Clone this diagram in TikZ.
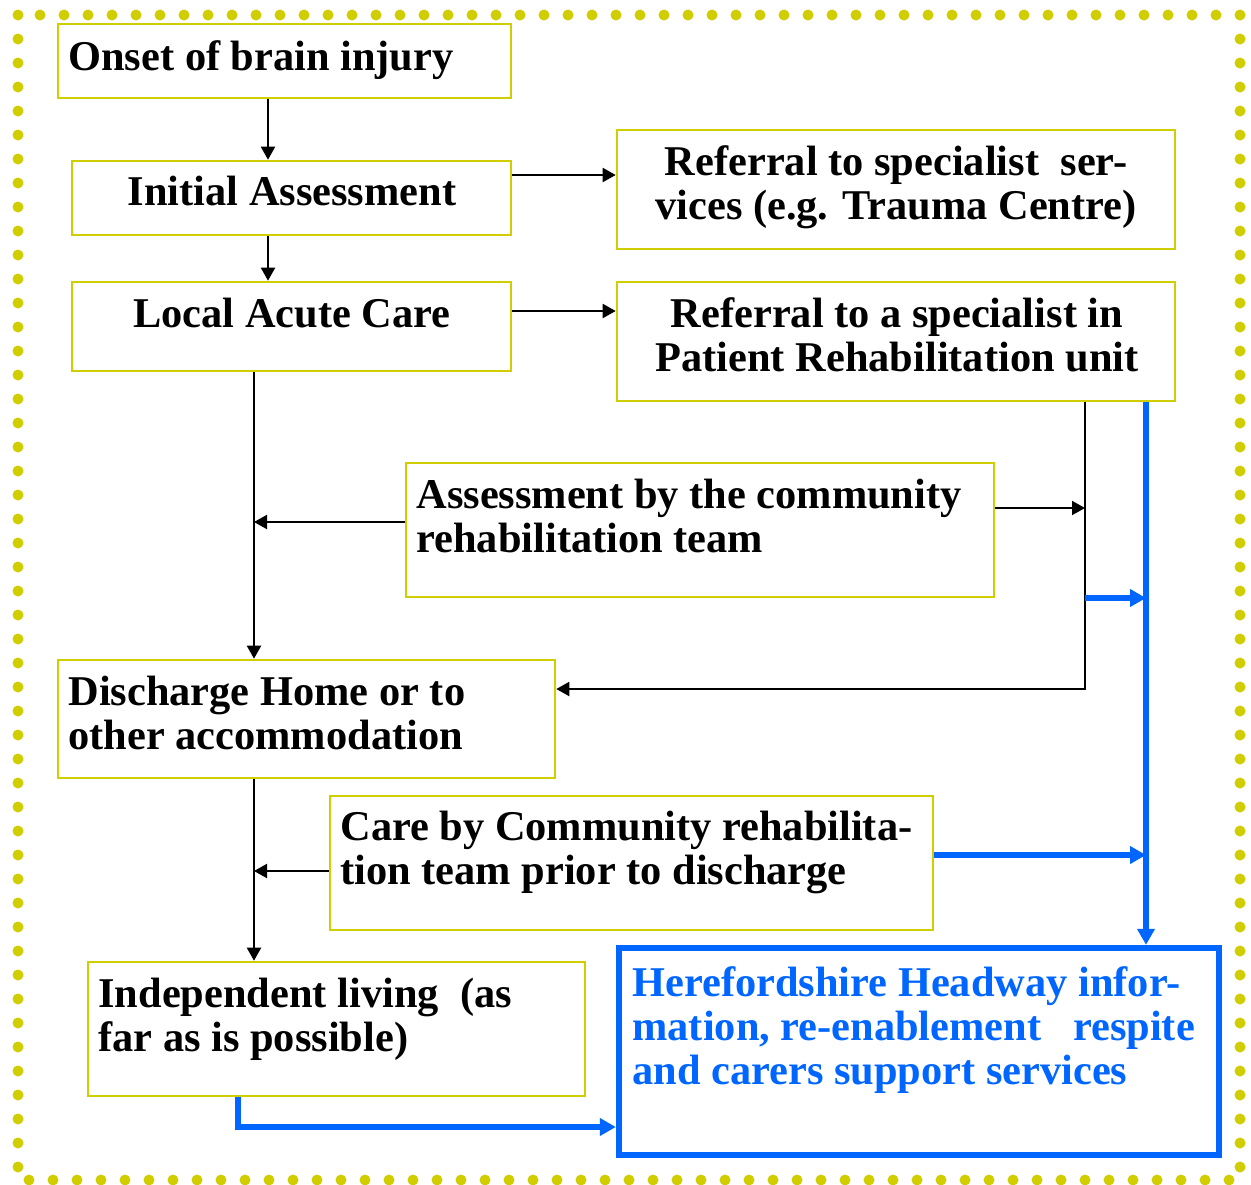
\documentclass[tikz,border=0pt]{standalone}
\usepackage{fontspec}
\setmainfont{Liberation Serif}
\usetikzlibrary{arrows.meta,fit}
\definecolor{ybox}{RGB}{208,205,0}
\definecolor{hblue}{RGB}{0,102,255}
\begin{document}
\begin{tikzpicture}[x=0.5pt,y=-0.5pt,
  box/.style={draw=ybox,line width=1.3pt,inner sep=0pt},
  bbox/.style={draw=hblue,line width=3.2pt,inner sep=0pt},
  txt/.style={inner sep=0pt,font=\fontsize{21.2}{22}\selectfont\bfseries},
  arr/.style={line width=1pt,-{Triangle[length=6.5pt,width=7pt]}},
  barr/.style={draw=hblue,line width=2.7pt,-{Triangle[length=8pt,width=8.5pt]}},
  dotborder/.style={draw=ybox,line width=5.5pt,line cap=round,dash pattern=on 0pt off 12pt}]
\useasboundingbox (0,0) rectangle (1251,1184);
\draw[dotborder] (18,15) rectangle (1240,1180);
% boxes
\node[box,fit={(58,24) (511,98)}] (onset) {};
\node[box,fit={(72,161) (511,235)}] (init) {};
\node[box,fit={(617,130) (1175,249)}] (ref1) {};
\node[box,fit={(72,282) (511,371)}] (local) {};
\node[box,fit={(617,282) (1175,401)}] (ref2) {};
\node[box,fit={(406,463) (994,597)}] (assess) {};
\node[box,fit={(58,660) (555,778)}] (dis) {};
\node[box,fit={(330,796) (933,930)}] (care) {};
\node[box,fit={(88,962) (585,1096)}] (indep) {};
\node[bbox,fit={(619,948) (1219,1155)}] (head) {};
% texts
\node[txt,anchor=north west] (tonset) at (68,39.2) {\strut Onset of brain injury};
\node[txt,anchor=north] (tinit) at (292,174.2) {\strut Initial Assessment};
\node[txt,anchor=north,align=center] (tref1) at (896,144.2) {\strut Referral to specialist\ \ ser-\\vices (e.g. Trauma Centre)};
\node[txt,anchor=north] (tlocal) at (292,296.2) {\strut Local Acute Care};
\node[txt,anchor=north,align=center] (tref2) at (897,296.2) {\strut Referral to a specialist in\\Patient Rehabilitation unit};
\node[txt,anchor=north west,align=left] (tassess) at (416,477.2) {\strut Assessment by the community\\rehabilitation team};
\node[txt,anchor=north west,align=left] (tdis) at (68,674.2) {\strut Discharge Home or to\\other accommodation};
\node[txt,anchor=north west,align=left] (tcare) at (340,809.2) {\strut Care by Community rehabilita-\\tion team prior to discharge};
\node[txt,anchor=north west,align=left] (tindep) at (98,976.2) {\strut Independent living\ \ (as\\far as is possible)};
\node[txt,anchor=north west,align=left,text=hblue] (thead) at (632,965.2) {\strut Herefordshire Headway infor-\\mation, re-enablement\ \ \ respite\\and carers support services};
% helper coordinates
\coordinate (xa) at (268,0);
\coordinate (xb) at (254,0);
\coordinate (xc) at (1085,0);
\coordinate (xd) at (1146,0);
\coordinate (xe) at (238,0);
\coordinate (ya) at (0,175);
\coordinate (yb) at (0,311);
\coordinate (yc) at (0,522);
\coordinate (yd) at (0,508);
\coordinate (ye) at (0,689);
\coordinate (yf) at (0,598);
\coordinate (yg) at (0,871);
\coordinate (yh) at (0,855);
\coordinate (yi) at (0,1127);
% black connectors
\draw[arr] (onset.south -| xa) -- (init.north -| xa);
\draw[arr] (init.south -| xa) -- (local.north -| xa);
\draw[arr] (init.east |- ya) -- (ref1.west |- ya);
\draw[arr] (local.east |- yb) -- (ref2.west |- yb);
\draw[arr] (local.south -| xb) -- (dis.north -| xb);
\draw[arr] (assess.west |- yc) -- (xb |- yc);
\draw[arr] (assess.east |- yd) -- (xc |- yd);
\draw[arr] (ref2.south -| xc) |- (dis.east |- ye);
\draw[arr] (dis.south -| xb) -- (indep.north -| xb);
\draw[arr] (care.west |- yg) -- (xb |- yg);
% blue connectors
\draw[barr] (ref2.south -| xd) -- (head.north -| xd);
\draw[barr] (xc |- yf) -- (xd |- yf);
\draw[barr] (care.east |- yh) -- (xd |- yh);
\draw[barr] (indep.south -| xe) |- (head.west |- yi);
\end{tikzpicture}
\end{document}
